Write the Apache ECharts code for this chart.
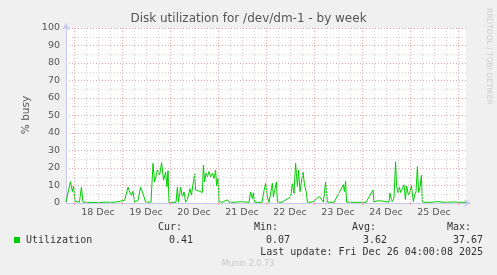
<!DOCTYPE html>
<html><head><meta charset="utf-8">
<script src="https://cdn.jsdelivr.net/npm/echarts@6/dist/echarts.min.js"></script>
<style>html,body{margin:0;padding:0;background:#f0f0f0}#c{width:497px;height:275px}</style>
</head><body><div id="c"></div>
<script>
// hours since Dec 17 20:00 (window ends Dec 26 04:00 = hour 200)
var hours = [0,1,2.2,3.2,3.8,4.5,5.5,6.7,7.7,8.5,12,16,20,24,26,27,29.3,30,31,31.8,32.7,33.5,34.3,36,37.3,38.2,39,39.8,42.5,43.5,44.3,45.7,46.8,47.8,48.8,49.8,50.5,51,51.5,52.5,55,55.7,56.2,57.3,58.2,59,59.8,60.7,62,62.7,63.7,64.3,64.8,65.7,67,68.2,68.7,69.3,70,70.7,71.5,72.3,73.2,74,74.8,75.3,76,76.5,78,80.7,81.5,84,87.3,88,91.5,92.3,93.2,93.7,94.3,98,99,99.8,100.7,101.5,103.2,103.7,104.3,105.2,105.7,108,112.3,113.2,114,114.8,115.7,116.3,117,117.7,118.5,119.3,120.2,120.7,122,124,125,125.7,126.8,127.7,128.7,129.8,130.7,134,138.7,139.2,139.8,140.3,145,150,153.5,154,155.5,156,157.5,158,161.5,162,162.7,163.2,164,164.8,165.3,166,166.7,167.3,168.2,169,169.7,170.3,171.2,172,172.7,173.7,174.3,175,175.7,176.3,177,177.7,178.2,182,186,189,190,194,198,200];
var busy  = [0.5,1.5,12.2,6.5,9.7,1,0.5,0.5,9,0.5,0.4,0.3,0.5,0.4,0.8,0.4,1.5,0.5,9,6.3,4.4,6.6,0.5,1.5,9,6.5,5.5,0.5,0.5,22.7,12,18.9,16,23,13,17.7,9.3,18.5,0.3,0.4,0.4,9,0.5,9,3.5,6.3,0.5,2,8.2,4.5,5.5,16.6,7.5,8,6.6,6,21.7,12,17,15,18,15,17,14,18.8,10,14,0.8,0.4,1.8,0.4,0.4,0.8,0.4,0.4,6.3,2.5,5.8,0.4,0.4,7,11.2,3.5,0.3,11.2,3.5,7,12,0.5,0.4,3.5,11,5.5,22.7,9.5,18.8,6.5,12,17.7,10,6,0.5,0.4,1,0.6,3,3.6,3.6,0.5,12,0.5,0.4,10.5,6.5,12.5,0.5,0.4,0.4,7.4,0.5,1.2,0.5,1.2,0.5,0.5,5.7,2,0.8,3,23.6,9.5,6,9,6,6.5,10.4,2,9.7,4.5,6.5,9.9,0.8,4.5,6.5,20.8,6,9,15.8,0.5,0.4,0.8,0.4,0.4,0.6,0.4,0.41];
var dayLabels = ['18 Dec','19 Dec','20 Dec','21 Dec','22 Dec','23 Dec','24 Dec','25 Dec'];
var dayLabelHours = [16,40,64,88,112,136,160,184];
var midnightHours = [4,28,52,76,100,124,148,172,196];
var gridHours = [];
for (var g = 4; g < 200; g += 6) gridHours.push(g);
var yTicks = [0,10,20,30,40,50,60,70,80,90,100];
var legendHead = ['Cur:','Min:','Avg:','Max:'];
var legendVals = ['0.41','0.07','3.62','37.67'];

var RED = '#e8a8a8', GRAY = '#d4d4d4', AXIS = '#c8c8ee';
var chart = echarts.init(document.getElementById('c'), null, {renderer:'canvas'});
var mono = 'DejaVu Sans Mono', sans = 'DejaVu Sans';
var headX = [158,254,352,447];
var valX = [193,290,387,483];
var graphics = [
  {type:'text', left:'center', top:13, style:{text:'Disk utilization for /dev/dm-1 - by week', font:'12px '+sans, fill:'#555'}},
  {type:'text', x:489, y:8, rotation:-Math.PI/2, style:{text:'RRDTOOL / TOBI OETIKER', font:'7.5px '+sans, fill:'#ccc', textVerticalAlign:'middle'}},
  {type:'text', x:26, y:115, rotation:Math.PI/2, style:{text:'% busy', font:'10.5px '+sans, fill:'#555', textAlign:'center', textVerticalAlign:'middle'}},
  {type:'rect', shape:{x:14,y:237,width:6,height:6}, style:{fill:'#00cc00'}},
  {type:'text', x:26, y:240, style:{text:'Utilization', font:'10px '+mono, fill:'#333', textVerticalAlign:'middle'}},
  {type:'text', x:483, y:252, style:{text:'Last update: Fri Dec 26 04:00:08 2025', font:'10px '+mono, fill:'#333', textAlign:'right', textVerticalAlign:'middle'}},
  {type:'text', x:248, y:264, style:{text:'Munin 2.0.73', font:'8px '+sans, fill:'#c8c8c8', textAlign:'center', textVerticalAlign:'middle'}}
];
legendHead.forEach(function(t,i){
  graphics.push({type:'text', x:headX[i], y:227, style:{text:t, font:'10px '+mono, fill:'#333', textVerticalAlign:'middle'}});
  graphics.push({type:'text', x:valX[i], y:240, style:{text:legendVals[i], font:'10px '+mono, fill:'#333', textAlign:'right', textVerticalAlign:'middle'}});
});

chart.setOption({
  backgroundColor:'#f0f0f0',
  animation:false,
  grid:{left:66, right:31, top:28, bottom:72, show:true, backgroundColor:'#ffffff', borderWidth:0},
  xAxis:{type:'value', min:0, max:200,
    axisLine:{show:true, lineStyle:{color:AXIS, width:1}, symbol:['none','arrow'], symbolSize:[6,7], symbolOffset:[0,5]},
    axisTick:{show:true, customValues:midnightHours, length:2, lineStyle:{color:RED}},
    splitLine:{show:false},
    axisLabel:{customValues:dayLabelHours, color:'#555', fontFamily:sans, fontSize:9.5, margin:5,
      formatter:function(v){ var i = dayLabelHours.indexOf(v); return i>=0 ? dayLabels[i] : ''; }}
  },
  yAxis:{type:'value', min:0, max:100, interval:5,
    axisLine:{show:true, lineStyle:{color:AXIS, width:1}, symbol:['none','arrow'], symbolSize:[6,7], symbolOffset:[0,5]},
    axisTick:{show:false},
    splitLine:{show:true, lineStyle:{color:[RED,GRAY], type:[1,2], width:1}},
    axisLabel:{color:'#555', fontFamily:sans, fontSize:9.5, margin:6,
      formatter:function(v){ return yTicks.indexOf(v)>=0 ? String(v) : ''; }}
  },
  series:[
    {type:'line', data:[], z:1, silent:true,
      markLine:{silent:true, symbol:['none','none'], label:{show:false}, animation:false,
        data:gridHours.map(function(h){ return {xAxis:h, lineStyle:{color:((h-4)%24===0)?RED:GRAY, type:[1,2], width:1}}; })}
    },
    {type:'line', z:3, showSymbol:false, symbol:'none',
      lineStyle:{color:'#00cc00', width:1},
      data:hours.map(function(h,i){ return [h, busy[i]]; })}
  ],
  graphic:graphics
});
</script></body></html>
